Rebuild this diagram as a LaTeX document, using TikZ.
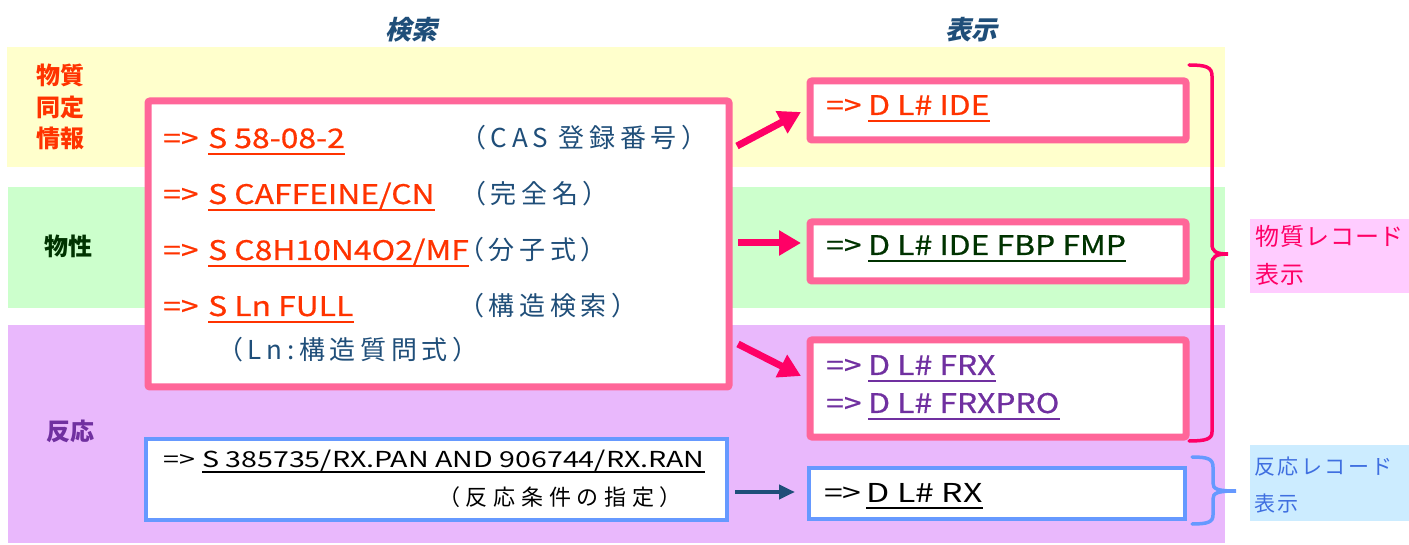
\documentclass[tikz,border=0pt]{standalone}
\usepackage{fontspec}
\setmainfont{Noto Sans CJK JP}
\newfontfamily\lat{Noto Sans CJK JP}[FakeStretch=1.18,FakeBold=0.6]
\newfontfamily\latthin{Noto Sans CJK JP}[FakeStretch=1.3]
\newfontfamily\ttl{Noto Sans CJK JP}[FakeSlant=0.22]
\newfontfamily\spcn{Noto Sans CJK JP}[LetterSpace=18]
\newfontfamily\spcr{Noto Sans CJK JP}[LetterSpace=26]
\newfontfamily\spcp{Noto Sans CJK JP}[LetterSpace=4]
\newfontfamily\spcq{Noto Sans CJK JP}[LetterSpace=12]
\usetikzlibrary{arrows.meta}
\definecolor{bandY}{HTML}{FFFFCC}
\definecolor{bandG}{HTML}{CCFFCC}
\definecolor{bandP}{HTML}{E9B8FC}
\definecolor{cPinkBox}{HTML}{FF6699}
\definecolor{cArr}{HTML}{FF0066}
\definecolor{cOr}{HTML}{FF3300}
\definecolor{cNavy}{HTML}{1F4E79}
\definecolor{cGreen}{HTML}{003300}
\definecolor{cPur}{HTML}{7030A0}
\definecolor{cBlueBox}{HTML}{6699FF}
\definecolor{cLblPink}{HTML}{FFCCFF}
\definecolor{cLblBlue}{HTML}{CCECFF}
\definecolor{cLblBlueTxt}{HTML}{3F6FE0}
\begin{document}
\begin{tikzpicture}[x=1pt,y=-1pt,
  txt/.style={inner sep=0pt,anchor=base west},
  big/.style={font=\lat\fontsize{27}{30}\selectfont},
  note/.style={font=\spcn\fontsize{26}{30}\selectfont,text=cNavy},
  pinkbox/.style={draw=cPinkBox,line width=7pt,fill=white,rounded corners=2pt,inner sep=0pt,anchor=north west},
  bluebox/.style={draw=cBlueBox,line width=4pt,fill=white,inner sep=0pt,anchor=north west},
  ulin/.style={line width=2.6pt},
  parrow/.style={draw=cArr,line width=7pt,-{Triangle[length=22pt,width=24pt]}},
  barrow/.style={draw=cNavy,line width=4pt,-{Triangle[length=16pt,width=14pt]}},
  sidelbl/.style={font=\bfseries\fontsize{24}{31.5}\selectfont,align=center,inner sep=0pt},
  ttlstyle/.style={font=\ttl\bfseries\fontsize{26}{30}\selectfont,text=cNavy,inner sep=0pt},
  brace/.style={line width=3.5pt,line cap=round}
]
\useasboundingbox (0,0) rectangle (1409,545);
% bands
\fill[bandY] (7,47) rectangle (1225,167);
\fill[bandG] (8,187) rectangle (1225,308);
\fill[bandP] (8,325) rectangle (1225,543);
% titles
\node[ttlstyle] (t1) at (411,30) {検索};
\node[ttlstyle] (t2) at (971,30) {表示};
% side labels
\node[sidelbl,text=cOr] (l1) at (60,107) {物質\\同定\\情報};
\node[sidelbl,text=cGreen] (l2) at (69,246) {物性};
\node[sidelbl,text=cPur] (l3) at (70,431) {反応};
% search box
\node[pinkbox,minimum width=581pt,minimum height=286pt] (sb) at (144.5,97.5) {};
\node[txt,big,text=cOr] (s1a) at (163,148) {=>};
\node[txt,big,text=cOr] (s1b) at (208,148) {S 58-08-2};
\node[txt,note] (s1c) at (460,148) {（CAS 登録番号）};
\node[txt,big,text=cOr] (s2a) at (163,204) {=>};
\node[txt,big,text=cOr] (s2b) at (208,204) {S CAFFEINE/CN};
\node[txt,note] (s2c) at (460,204) {（完全名）};
\node[txt,big,text=cOr] (s3a) at (163,260) {=>};
\node[txt,big,text=cOr] (s3b) at (208,260) {S C8H10N4O2/MF};
\node[txt,note] (s3c) at (458,260) {（分子式）};
\node[txt,big,text=cOr] (s4a) at (163,316) {=>};
\node[txt,big,text=cOr] (s4b) at (208,316) {S Ln FULL};
\node[txt,note] (s4c) at (458,316) {（構造検索）};
\node[txt,note] (s5) at (217,360) {（Ln:構造質問式）};
\foreach \n in {s1b,s2b,s3b,s4b}
  \draw[ulin,cOr] ([yshift=-6pt]\n.base west) -- ([yshift=-6pt]\n.base east);
% reaction search box
\node[bluebox,minimum width=581pt,minimum height=81pt] (rb) at (144,437) {};
\node[txt,font=\latthin\fontsize{22}{26}\selectfont] (r1a) at (163,467) {=>};
\node[txt,font=\latthin\fontsize{22}{26}\selectfont] (r1b) at (202,467) {S 385735/RX.PAN AND 906744/RX.RAN};
\draw[line width=2.2pt] ([yshift=-5pt]r1b.base west) -- ([yshift=-5pt]r1b.base east);
\node[txt,font=\spcr\fontsize{22}{26}\selectfont] (r2) at (438,505) {（反応条件の指定）};
% display boxes
\node[pinkbox,minimum width=376pt,minimum height=59pt] (d1) at (806.5,77.5) {};
\node[txt,big,text=cOr] (d1a) at (826,115) {=>};
\node[txt,big,text=cOr] (d1b) at (868,115) {D L\# IDE};
\draw[ulin,cOr] ([yshift=-6pt]d1b.base west) -- ([yshift=-6pt]d1b.base east);
\node[pinkbox,minimum width=376pt,minimum height=59pt] (d2) at (806.5,218.5) {};
\node[txt,big,text=cGreen] (d2a) at (826,255) {=>};
\node[txt,big,text=cGreen] (d2b) at (868,255) {D L\# IDE FBP FMP};
\draw[ulin,cGreen] ([yshift=-6pt]d2b.base west) -- ([yshift=-6pt]d2b.base east);
\node[pinkbox,minimum width=376pt,minimum height=97pt] (d3) at (806.5,336.5) {};
\node[txt,big,text=cPur] (d3a) at (826,375) {=>};
\node[txt,big,text=cPur] (d3b) at (868,375) {D L\# FRX};
\node[txt,big,text=cPur] (d3c) at (826,413) {=>};
\node[txt,big,text=cPur] (d3d) at (868,413) {D L\# FRXPRO};
\draw[ulin,cPur] ([yshift=-6pt]d3b.base west) -- ([yshift=-6pt]d3b.base east);
\draw[ulin,cPur] ([yshift=-6pt]d3d.base west) -- ([yshift=-6pt]d3d.base east);
\node[bluebox,minimum width=376pt,minimum height=51pt] (d4) at (807,466) {};
\node[txt,font=\latthin\fontsize{26}{30}\selectfont] (d4a) at (824,502) {=>};
\node[txt,font=\latthin\fontsize{26}{30}\selectfont] (d4b) at (866,502) {D L\# RX};
\draw[line width=2.4pt] ([yshift=-6pt]d4b.base west) -- ([yshift=-6pt]d4b.base east);
% arrows
\coordinate (a1s) at (737,146); \coordinate (a1e) at (801,112);
\coordinate (a2s) at (738,243); \coordinate (a2e) at (801,243);
\coordinate (a3s) at (738,344); \coordinate (a3e) at (801,376);
\coordinate (a4s) at (735,492); \coordinate (a4e) at (795,492);
\draw[parrow] (a1s) -- (a1e);
\draw[parrow] (a2s) -- (a2e);
\draw[parrow] (a3s) -- (a3e);
\draw[barrow] (a4s) -- (a4e);
% braces
\draw[brace,cArr] (1189,65) .. controls (1206,65) and (1212,67) .. (1212,76) -- (1212,244)
  .. controls (1212,251) and (1215,254) .. (1228,254)
  .. controls (1215,254) and (1212,257) .. (1212,264) -- (1212,432)
  .. controls (1212,439) and (1206,441) .. (1189,441);
\draw[brace,cBlueBox] (1192,457) .. controls (1208,457) and (1213,459) .. (1213,467) -- (1213,483)
  .. controls (1213,489) and (1217,491) .. (1236,491)
  .. controls (1217,491) and (1213,493) .. (1213,499) -- (1213,515)
  .. controls (1213,522) and (1208,524) .. (1192,524);
% right labels
\fill[cLblPink] (1250,219) rectangle (1409,293);
\node[txt,font=\spcp\fontsize{24}{26}\selectfont,text=cArr] (p1) at (1255,246) {物質レコード};
\node[txt,font=\spcp\fontsize{24}{26}\selectfont,text=cArr] (p2) at (1255,284) {表示};
\fill[cLblBlue] (1250,445) rectangle (1409,521);
\node[txt,font=\spcq\fontsize{21}{26}\selectfont,text=cLblBlueTxt] (q1) at (1254,474) {反応レコード};
\node[txt,font=\spcq\fontsize{21}{26}\selectfont,text=cLblBlueTxt] (q2) at (1254,511) {表示};
\end{tikzpicture}
\end{document}
